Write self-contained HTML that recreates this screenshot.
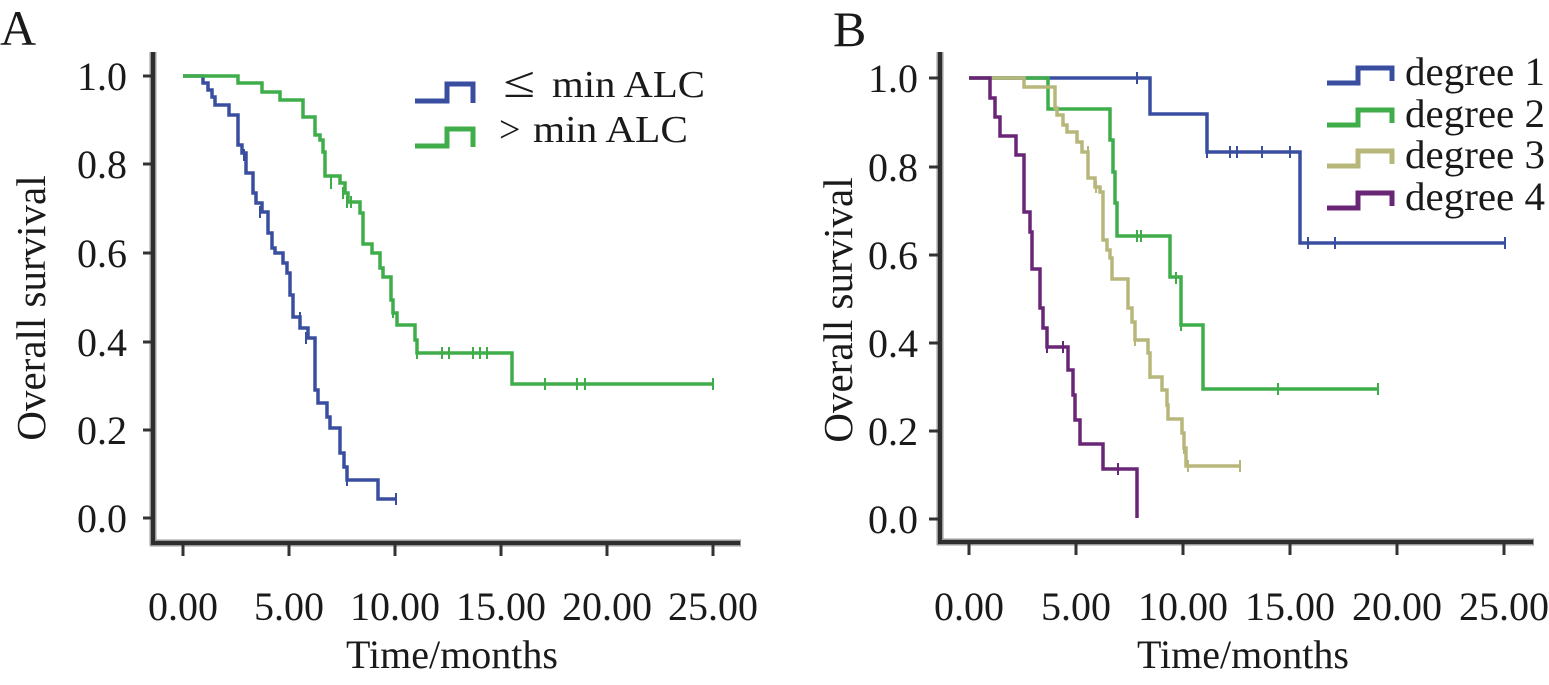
<!DOCTYPE html>
<html>
<head>
<meta charset="utf-8">
<style>
html,body{margin:0;padding:0;background:#fff;}
svg{display:block;}
text{font-family:"Liberation Serif","Times New Roman",serif;fill:#1a1a1a;}
</style>
</head>
<body>
<svg width="1549" height="685" viewBox="0 0 1549 685" xmlns="http://www.w3.org/2000/svg">
<rect width="1549" height="685" fill="#fff"/>

<!-- ============ PANEL A ============ -->
<text x="0" y="45" font-size="50">A</text>

<g>
  <line x1="153" y1="52" x2="153" y2="546" stroke="#9a9a9a" stroke-width="7"/>
  <line x1="150" y1="543" x2="741" y2="543" stroke="#9a9a9a" stroke-width="7"/>
  <line x1="153" y1="52" x2="153" y2="545" stroke="#2e2e2e" stroke-width="4"/>
  <line x1="151" y1="543" x2="740" y2="543" stroke="#2e2e2e" stroke-width="4"/>
  <g stroke="#333" stroke-width="3">
    <line x1="143" y1="76" x2="151" y2="76"/>
    <line x1="143" y1="164" x2="151" y2="164"/>
    <line x1="143" y1="253" x2="151" y2="253"/>
    <line x1="143" y1="342" x2="151" y2="342"/>
    <line x1="143" y1="430" x2="151" y2="430"/>
    <line x1="143" y1="518" x2="151" y2="518"/>
    <line x1="183" y1="545" x2="183" y2="556"/>
    <line x1="289" y1="545" x2="289" y2="556"/>
    <line x1="395" y1="545" x2="395" y2="556"/>
    <line x1="501" y1="545" x2="501" y2="556"/>
    <line x1="607" y1="545" x2="607" y2="556"/>
    <line x1="713" y1="545" x2="713" y2="556"/>
  </g>
</g>
<g font-size="40" text-anchor="end">
  <text x="127" y="90">1.0</text>
  <text x="127" y="178">0.8</text>
  <text x="127" y="267">0.6</text>
  <text x="127" y="356">0.4</text>
  <text x="127" y="444">0.2</text>
  <text x="127" y="532">0.0</text>
</g>
<g font-size="40" text-anchor="middle">
  <text x="183" y="620">0.00</text>
  <text x="289" y="620">5.00</text>
  <text x="395" y="620">10.00</text>
  <text x="501" y="620">15.00</text>
  <text x="607" y="620">20.00</text>
  <text x="713" y="620">25.00</text>
</g>
<text x="452" y="668" font-size="40" text-anchor="middle">Time/months</text>
<text transform="translate(45,308) rotate(-90)" font-size="41" text-anchor="middle">Overall survival</text>

<g fill="none" stroke-width="3.5" stroke-linejoin="miter">
  <path stroke="#3a4ea0" d="M183,76 H203 V83 H208 V90 H212 V97 H215 V105 H229 V115 H238 V145 H242 V153 H246 V173 H253 V193 H256 V203 H262 V212 H268 V233 H272 V248 H275 V253 H283 V263 H287 V273 H290 V295 H293 V317 H300 V328 H308 V338 H315 V390 H318 V403 H327 V417 H330 V428 H340 V453 H344 V467 H347 V480 H378 V499 H396"/>
  <g stroke="#3a4ea0" stroke-width="2">
    <path d="M244,149 V161 M260,206 V218 M300,312 V324 M306,332 V344 M347,474 V486 M396,493 V505"/>
  </g>
  <path stroke="#3fae4a" d="M183,76 H238 V83 H262 V92 H280 V100 H303 V117 H315 V135 H320 V140 H323 V152 H325 V176 H340 V183 H345 V193 H348 V202 H360 V213 H363 V244 H372 V253 H380 V268 H383 V277 H391 V300 H393 V313 H397 V325 H415 V340 H417 V353 H512 V384 H713"/>
  <g stroke="#3fae4a" stroke-width="2">
    <path d="M331,177 V189 M343,187 V199 M347,196 V208 M351,196 V208 M393,306 V318 M417,347 V359 M442,347 V359 M449,347 V359 M473,347 V359 M480,347 V359 M487,347 V359 M545,378 V390 M577,378 V390 M585,378 V390 M713,378 V390"/>
  </g>
</g>

<g fill="none" stroke-width="5">
  <path stroke="#3a4ea0" d="M415,101 H447 V84 H473 V103"/>
  <path stroke="#3fae4a" d="M415,146 H447 V129 H473 V147"/>
</g>
<text x="503" y="97" font-size="44" textLength="32" lengthAdjust="spacingAndGlyphs">≤</text>
<text x="552" y="97" font-size="38" textLength="153" lengthAdjust="spacingAndGlyphs">min ALC</text>
<text x="499" y="142" font-size="38">&gt;</text>
<text x="533" y="142" font-size="38" textLength="155" lengthAdjust="spacingAndGlyphs">min ALC</text>

<!-- ============ PANEL B ============ -->
<text x="833" y="46" font-size="50">B</text>

<g>
  <line x1="940" y1="52" x2="940" y2="545" stroke="#9a9a9a" stroke-width="7"/>
  <line x1="937" y1="542" x2="1534" y2="542" stroke="#9a9a9a" stroke-width="7"/>
  <line x1="940" y1="52" x2="940" y2="544" stroke="#2e2e2e" stroke-width="4"/>
  <line x1="938" y1="542" x2="1533" y2="542" stroke="#2e2e2e" stroke-width="4"/>
  <g stroke="#333" stroke-width="3">
    <line x1="929" y1="78" x2="938" y2="78"/>
    <line x1="929" y1="167" x2="938" y2="167"/>
    <line x1="929" y1="255" x2="938" y2="255"/>
    <line x1="929" y1="343" x2="938" y2="343"/>
    <line x1="929" y1="431" x2="938" y2="431"/>
    <line x1="929" y1="519" x2="938" y2="519"/>
    <line x1="969" y1="544" x2="969" y2="555"/>
    <line x1="1076" y1="544" x2="1076" y2="555"/>
    <line x1="1183" y1="544" x2="1183" y2="555"/>
    <line x1="1290" y1="544" x2="1290" y2="555"/>
    <line x1="1397" y1="544" x2="1397" y2="555"/>
    <line x1="1504" y1="544" x2="1504" y2="555"/>
  </g>
</g>
<g font-size="40" text-anchor="end">
  <text x="918" y="92">1.0</text>
  <text x="918" y="181">0.8</text>
  <text x="918" y="269">0.6</text>
  <text x="918" y="357">0.4</text>
  <text x="918" y="445">0.2</text>
  <text x="918" y="533">0.0</text>
</g>
<g font-size="40" text-anchor="middle">
  <text x="969" y="620">0.00</text>
  <text x="1076" y="620">5.00</text>
  <text x="1183" y="620">10.00</text>
  <text x="1290" y="620">15.00</text>
  <text x="1397" y="620">20.00</text>
  <text x="1504" y="620">25.00</text>
</g>
<text x="1243" y="668" font-size="40" text-anchor="middle">Time/months</text>
<text transform="translate(852,310) rotate(-90)" font-size="41" text-anchor="middle">Overall survival</text>

<g fill="none" stroke-width="3.5">
  <path stroke="#3a4ea0" d="M969,78 H1150 V114 H1207 V152 H1300 V243 H1505"/>
  <g stroke="#3a4ea0" stroke-width="2">
    <path d="M1137,72 V84 M1207,146 V158 M1230,146 V158 M1237,146 V158 M1262,146 V158 M1290,146 V158 M1308,237 V249 M1335,237 V249 M1505,237 V249"/>
  </g>
  <path stroke="#3fae4a" d="M969,78 H1048 V109 H1110 V140 H1113 V172 H1115 V203 H1117 V236 H1170 V277 H1181 V325 H1203 V389 H1378"/>
  <g stroke="#3fae4a" stroke-width="2">
    <path d="M1137,230 V242 M1141,230 V242 M1176,272 V284 M1181,319 V331 M1278,383 V395 M1378,383 V395"/>
  </g>
  <path stroke="#b7b77c" d="M969,78 H1024 V87 H1055 V108 H1057 V115 H1063 V125 H1067 V132 H1077 V142 H1082 V152 H1088 V178 H1095 V187 H1100 V192 H1103 V240 H1107 V250 H1110 V258 H1112 V279 H1128 V308 H1132 V322 H1135 V340 H1148 V353 H1150 V377 H1162 V390 H1167 V405 H1168 V419 H1182 V433 H1184 V448 H1186 V466 H1240"/>
  <g stroke="#b7b77c" stroke-width="2">
    <path d="M1088,146 V158 M1096,181 V193 M1135,334 V346 M1150,367 V379 M1184,442 V454 M1188,460 V472 M1240,460 V472"/>
  </g>
  <path stroke="#6a2676" d="M969,78 H990 V98 H995 V117 H1000 V136 H1016 V155 H1024 V212 H1030 V232 H1032 V269 H1040 V308 H1043 V328 H1047 V347 H1068 V370 H1073 V395 H1075 V420 H1080 V444 H1103 V469 H1137 V518"/>
  <g stroke="#6a2676" stroke-width="2">
    <path d="M1047,341 V353 M1063,341 V353 M1118,463 V475"/>
  </g>
</g>

<g fill="none" stroke-width="5">
  <path stroke="#3a4ea0" d="M1327,83 H1358 V68 H1392 V81"/>
  <path stroke="#3fae4a" d="M1327,125 H1358 V110 H1392 V123"/>
  <path stroke="#b7b77c" d="M1327,166 H1358 V151 H1392 V164"/>
  <path stroke="#6a2676" d="M1327,208 H1358 V193 H1392 V206"/>
</g>
<g font-size="40">
  <text x="1405" y="85" textLength="140" lengthAdjust="spacingAndGlyphs">degree 1</text>
  <text x="1405" y="127" textLength="140" lengthAdjust="spacingAndGlyphs">degree 2</text>
  <text x="1405" y="168" textLength="140" lengthAdjust="spacingAndGlyphs">degree 3</text>
  <text x="1405" y="210" textLength="140" lengthAdjust="spacingAndGlyphs">degree 4</text>
</g>
</svg>
</body>
</html>
